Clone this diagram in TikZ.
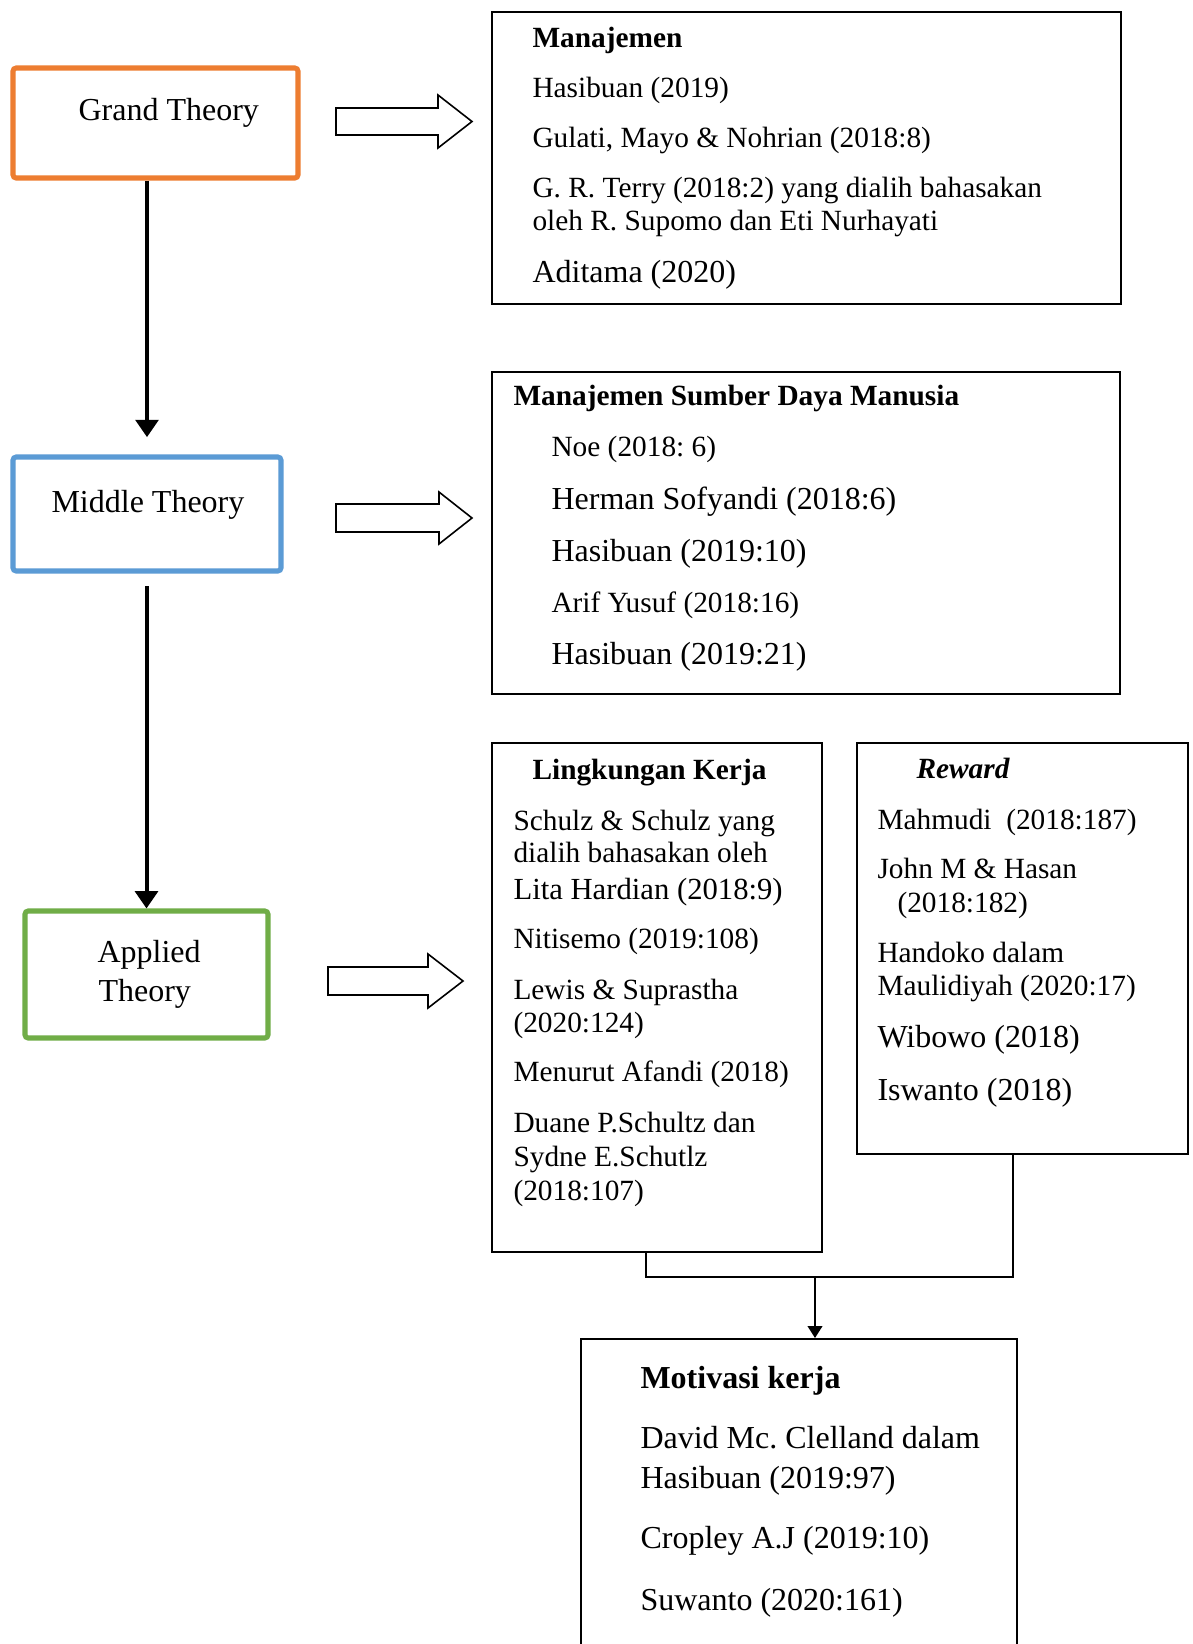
\documentclass[tikz,border=0pt]{standalone}
\usepackage{fontspec}
\setmainfont{Liberation Serif}
\usetikzlibrary{arrows.meta,fit}
\definecolor{gorange}{HTML}{ED7D31}
\definecolor{gblue}{HTML}{5B9BD5}
\definecolor{ggreen}{HTML}{70AD47}
\frenchspacing
\begin{document}
\begin{tikzpicture}[x=0.375pt,y=-0.375pt,
  box/.style={draw=black,line width=0.75pt,inner sep=0pt},
  theory/.style={line width=1.9pt,rounded corners=1.2pt,inner sep=0pt},
  t11/.style={anchor=base west,inner sep=0pt,font=\fontsize{11}{13}\selectfont},
  t115/.style={anchor=base west,inner sep=0pt,font=\fontsize{11.5}{13.5}\selectfont},
  t12/.style={anchor=base west,inner sep=0pt,font=\fontsize{12}{14}\selectfont},
  bigarrow/.style={draw=black,line width=0.6pt,fill=white,line join=miter},
  thickarrow/.style={line width=1.5pt,-{Triangle[width=8.5pt,length=6.5pt]}},
  thinarrow/.style={line width=0.75pt,-{Triangle[width=5.5pt,length=4.5pt]}},
  link/.style={line width=0.75pt}
]
\useasboundingbox (0,0) rectangle (1193,1644);
\clip (0,0) rectangle (1193,1644);
\fill[white] (0,0) rectangle (1193,1644);

% theory boxes
\node[theory,draw=gorange,fit={(13,68) (298,178)}] (grand) {};
\node[theory,draw=gblue,fit={(13,457) (281,571)}] (middle) {};
\node[theory,draw=ggreen,fit={(25,911) (268,1038)}] (applied) {};
\node[t12] (grandt) at (78,120) {Grand Theory};
\node[t12] (middlet) at (51,512) {Middle Theory};
\node[t12] (appliedt1) at (97,962) {Applied};
\node[t12] (appliedt2) at (98,1001) {Theory};

% vertical arrows
\draw[thickarrow] (middle.north |- grand.south) -- ([yshift=6.5pt]middle.north);
\draw[thickarrow] ([yshift=-4.8pt]applied.north |- middle.south) -- (applied.north);

% block arrows
\draw[bigarrow] (336,108) -- (438,108) -- (438,95) -- (472,121.5) -- (438,148) -- (438,135) -- (336,135) -- cycle;
\draw[bigarrow] (336,504) -- (439,504) -- (439,492) -- (472,518) -- (439,544) -- (439,532) -- (336,532) -- cycle;
\draw[bigarrow] (328,967) -- (428,967) -- (428,954) -- (463,981) -- (428,1008) -- (428,995) -- (328,995) -- cycle;

% Manajemen box
\node[box,fit={(492,12) (1121,304)}] (manaj) {};
\node[t11] (m0) at (532,47) {\textbf{Manajemen}};
\node[t11] (m1) at (532,97) {Hasibuan (2019)};
\node[t11] (m2) at (532,147) {Gulati, Mayo \& Nohrian (2018:8)};
\node[t11] (m3) at (532,197) {G. R. Terry (2018:2) yang dialih bahasakan};
\node[t11] (m4) at (532,230) {oleh R. Supomo dan Eti Nurhayati};
\node[t12] (m5) at (532,282) {Aditama (2020)};

% MSDM box
\node[box,fit={(492,372) (1120,694)}] (msdm) {};
\node[t11] (s0) at (513,405) {\textbf{Manajemen Sumber Daya Manusia}};
\node[t11] (s1) at (551,456) {Noe (2018: 6)};
\node[t12] (s2) at (551,509) {Herman Sofyandi (2018:6)};
\node[t12] (s3) at (551,561) {Hasibuan (2019:10)};
\node[t11] (s4) at (551,612) {Arif Yusuf (2018:16)};
\node[t12] (s5) at (551,664) {Hasibuan (2019:21)};

% Lingkungan Kerja box
\node[box,fit={(492,743) (822,1252)}] (lk) {};
\node[t11] (l0) at (532,779) {\textbf{Lingkungan Kerja}};
\node[t11] (l1) at (513,830) {Schulz \& Schulz yang};
\node[t11] (l2) at (513,862) {dialih bahasakan oleh};
\node[t115] (l3) at (513,899) {Lita Hardian (2018:9)};
\node[t11] (l4) at (513,948) {Nitisemo (2019:108)};
\node[t11] (l5) at (513,999) {Lewis \& Suprastha};
\node[t11] (l6) at (513,1032) {(2020:124)};
\node[t11] (l7) at (513,1081) {Menurut Afandi (2018)};
\node[t11] (l8) at (513,1132) {Duane P.Schultz dan};
\node[t11] (l9) at (513,1166) {Sydne E.Schutlz};
\node[t11] (l10) at (513,1200) {(2018:107)};

% Reward box
\node[box,fit={(857,743) (1188,1154)}] (reward) {};
\node[t11] (r0) at (916,778) {\textbf{\textit{Reward}}};
\node[t11] (r1) at (877,829) {Mahmudi\ \ (2018:187)};
\node[t11] (r2) at (877,878) {John M \& Hasan};
\node[t11] (r3) at (897,912) {(2018:182)};
\node[t11] (r4) at (877,962) {Handoko dalam};
\node[t11] (r5) at (877,995) {Maulidiyah (2020:17)};
\node[t12] (r6) at (877,1047) {Wibowo (2018)};
\node[t12] (r7) at (877,1100) {Iswanto (2018)};

% Motivasi box
\node[box,fit={(581,1339) (1017,1720)}] (motiv) {};
\node[t12] (v0) at (640,1388) {\textbf{Motivasi kerja}};
\node[t12] (v1) at (640,1448) {David Mc. Clelland dalam};
\node[t12] (v2) at (640,1488) {Hasibuan (2019:97)};
\node[t12] (v3) at (640,1548) {Cropley A.J (2019:10)};
\node[t12] (v4) at (640,1610) {Suwanto (2020:161)};

% joining connector
\coordinate (j1) at (646,1277);
\coordinate (j2) at (1013,1277);
\coordinate (jm) at (815,1277);
\draw[link] (lk.south -| j1) -- (j1) -- (j2) -- (reward.south -| j2);
\draw[thinarrow] (jm) -- (motiv.north -| jm);
\end{tikzpicture}
\end{document}
